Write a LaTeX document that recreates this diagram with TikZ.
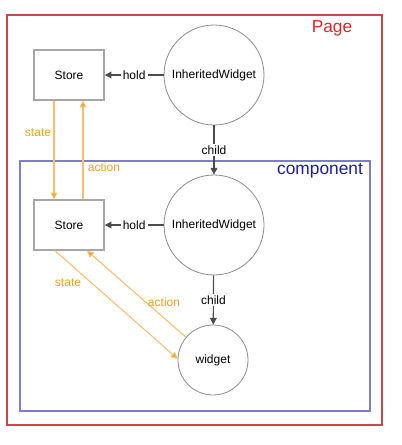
\documentclass[tikz,border=0pt]{standalone}
\usepackage{fontspec}
\setmainfont{Liberation Sans}
\usepackage{tikz}
\usetikzlibrary{positioning,
        shapes,
        arrows.meta}
\usepackage{xcolor}
\definecolor{pagered}{HTML}{D9262B}
\definecolor{pageline}{HTML}{C8484C}
\definecolor{compblue}{HTML}{1C1CA8}
\definecolor{compline}{HTML}{7E7EC6}
\definecolor{flowtext}{HTML}{F0A020}
\definecolor{flowline}{HTML}{F6BE6E}

\begin{document}
\begin{tikzpicture}[x=0.75pt,y=-0.75pt,font=\fontsize{9}{10}\selectfont,
        storebox/.style={rectangle,draw=black!35,line width=1.1pt,minimum width=52.5pt,minimum height=37.5pt,inner sep=0pt},
        bigcircle/.style={circle,draw=black!45,line width=0.6pt,minimum size=75pt,inner sep=0pt},
        smallcircle/.style={circle,draw=black!45,line width=0.6pt,minimum size=52.5pt,inner sep=0pt},
        link/.style={draw=black!70,line width=0.9pt,-{Triangle[length=5pt,width=5pt]}},
        flow/.style={draw=flowline,line width=0.8pt,-{Triangle[length=5pt,width=5pt,fill=flowtext]}},
        linklabel/.style={fill=white,inner sep=1.5pt},
        flowlabel/.style={text=flowtext,inner sep=1pt}]
        \useasboundingbox (0,0) rectangle (402,445);

        % frames
        \draw[pageline,line width=0.8pt] (7,15) rectangle (382,425);
        \node [text=pagered,font=\fontsize{13}{15}\selectfont] (pagetitle) at (332,28) {Page};
        \draw[compline,line width=1pt] (20,161) rectangle (370,411);
        \node [text=compblue,font=\fontsize{13}{15}\selectfont] (comptitle) at (320,171) {component};

        % nodes
        \node [storebox] (store1) at (69,75) {Store};
        \node [bigcircle] (iw1) at (214,75) {InheritedWidget};
        \node [storebox] (store2) at (69,225) {Store};
        \node [bigcircle] (iw2) at (214,225) {InheritedWidget};
        \node [smallcircle] (widget) at (213,360) {widget};

        % links
        \draw[link] (iw1) -- node[linklabel] {hold} (store1);
        \draw[link] (iw2) -- node[linklabel] {hold} (store2);
        \draw[link] (iw1) -- node[linklabel] {child} (iw2);
        \draw[link] (iw2) -- node[linklabel] {child} (widget);

        % state / action
        \draw[flow] ([xshift=-11.25pt]store1.south) -- ([xshift=-11.25pt]store2.north);
        \draw[flow] ([xshift=10.5pt]store2.north) -- ([xshift=10.5pt]store1.south);
        \draw[flow] ([xshift=-10.5pt]store2.south) -- (widget.178);
        \draw[flow] (widget.140) -- ([xshift=13.5pt]store2.south);
        \node [flowlabel] (state1) at (38,133) {state};
        \node [flowlabel] (action1) at (104,167) {action};
        \node [flowlabel] (state2) at (68,283) {state};
        \node [flowlabel] (action2) at (164,302) {action};
\end{tikzpicture}
\end{document}
